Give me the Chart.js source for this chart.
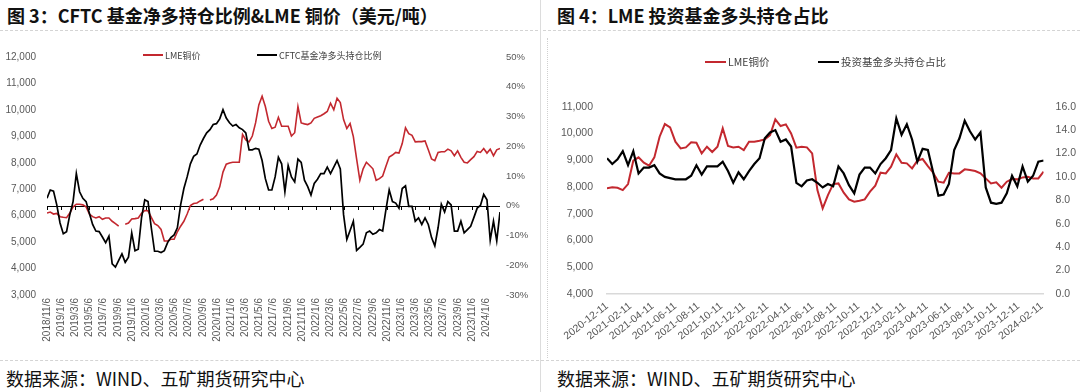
<!DOCTYPE html>
<html><head><meta charset="utf-8">
<script src="https://cdn.jsdelivr.net/npm/chart.js@4.4.1/dist/chart.umd.min.js"></script>
<style>
html,body{margin:0;padding:0;background:#fff;width:1080px;height:392px;overflow:hidden;font-family:"Noto Sans CJK SC",sans-serif;}
.title{position:absolute;top:6px;font-size:18px;line-height:18px;font-weight:bold;color:#111;white-space:nowrap;}
.src{position:absolute;top:369px;font-size:18px;line-height:18px;color:#111;white-space:nowrap;}
.hline{position:absolute;height:0;border-top:1px dashed #d4d4d4;}
.vline{position:absolute;width:0;}
canvas{position:absolute;}
</style></head>
<body>
<div class="title" style="left:7px">图 3：CFTC 基金净多持仓比例&amp;LME 铜价（美元/吨）</div>
<div class="title" style="left:557px">图 4：LME 投资基金多头持仓占比</div>
<div class="hline" style="left:0;width:538px;top:30px"></div>
<div class="hline" style="left:543px;width:537px;top:30px"></div>
<div class="hline" style="left:0;width:1080px;top:360px"></div>
<div class="vline" style="left:540px;top:0;height:392px;border-left:1px solid #dcdcdc"></div>
<div class="vline" style="left:547px;top:38px;height:320px;border-left:1px dotted #d0d0d0"></div>
<div class="src" style="left:6px">数据来源：WIND、五矿期货研究中心</div>
<div class="src" style="left:557px">数据来源：WIND、五矿期货研究中心</div>
<canvas id="c1" width="540" height="310" style="left:0;top:40px"></canvas>
<canvas id="c2" width="535" height="310" style="left:545px;top:40px"></canvas>
<script>
// ---------- Left chart data (bi-weekly from 2018/11/6) ----------
const leftStart = '2018/11/6';
const leftStepDays = 14;
const leftTickLabels = ['2018/11/6','2019/1/6','2019/3/6','2019/5/6','2019/7/6','2019/9/6','2019/11/6',
 '2020/1/6','2020/3/6','2020/5/6','2020/7/6','2020/9/6','2020/11/6',
 '2021/1/6','2021/3/6','2021/5/6','2021/7/6','2021/9/6','2021/11/6',
 '2022/1/6','2022/3/6','2022/5/6','2022/7/6','2022/9/6','2022/11/6',
 '2023/1/6','2023/3/6','2023/5/6','2023/7/6','2023/9/6','2023/11/6','2024/1/6'];
const lmeCopperLeft = [
 6098,6135,6061,6086,5962,5937,5924,6098,6334,6433,
 6433,6408,6334,6061,5962,5912,5962,5862,5912,5912,
 5788,5701,5602,null,5676,5720,5875,5887,5912,6086,
 6197,6185,5937,5701,5627,5478,5044,5044,5106,5106,
 5391,5602,5788,6061,6383,6458,6482,6557,6619,null,
 6594,6640,6780,7090,7648,7946,7995,8020,8020,8020,
 9074,8863,8789,9012,9508,10190,10520,10128,9570,9297,
 9347,9719,9384,9384,9384,9012,9136,10128,9508,9471,
 9446,9508,9682,9731,9781,9855,9942,10252,10004,10438,
 10277,9632,9297,9483,8987,8144,7338,7772,8020,7896,
 7772,7338,7400,7499,7871,8218,8293,8392,8367,8727,
 9322,9099,9037,8789,8801,8801,8826,8491,8144,8082,
 8392,8417,8417,8516,8454,8268,8454,8206,8020,7995,
 8119,8231,8429,8392,8541,8367,8516,8268,8491,8541];
const cftcNetLongPct = [
 2.5,5.3,4.9,0.3,-5.8,-9.4,-8.7,-3.0,1.4,10.8,
 4.7,2.5,1.4,-2.5,-6.3,-8.5,-8.7,-10.5,-12.4,-10.2,
 -19.5,-20.6,-18.4,-16.2,-19.0,-17.3,-9.1,-15.1,-14.6,-4.1,
 2.0,1.4,-7.4,-15.3,-15.3,-15.7,-15.1,-12.4,-10.7,-9.8,
 -7.4,0.3,5.8,9.7,14.1,16.6,17.4,20.4,22.6,24.5,
 25.6,27.3,27.6,29.2,32.3,29.5,27.9,26.8,27.3,26.2,
 25.6,24.5,18.8,18.8,19.3,19.0,15.2,9.1,5.3,5.3,
 9.7,16.3,14.1,4.7,13.5,9.7,8.0,15.7,14.6,8.6,
 6.4,3.6,7.5,8.9,10.8,10.8,13.0,10.8,13.0,15.2,
 12.4,-3.0,-11.3,-8.3,-5.2,-15.0,-14.0,-12.9,-9.1,-8.5,
 -9.6,-9.1,-8.0,-8.5,-1.3,5.3,1.4,0.9,-0.8,5.8,
 6.7,-0.2,-0.2,-5.2,-4.1,-6.3,-4.1,-6.3,-10.7,-13.5,
 -7.4,0.5,-2.1,1.4,0.3,-8.5,-8.5,-5.2,-9.1,-8.0,
 -6.9,-3.9,-0.8,0.1,3.8,2.0,-11.6,-5.2,-11.8,-2.1];

// ---------- Right chart data (bi-weekly from 2020-12-11) ----------
const rightStart = '2020-12-11';
const rightStepDays = 14;
const rightTickLabels = ['2020-12-11','2021-02-11','2021-04-11','2021-06-11','2021-08-11','2021-10-11','2021-12-11',
 '2022-02-11','2022-04-11','2022-06-11','2022-08-11','2022-10-11','2022-12-11',
 '2023-02-11','2023-04-11','2023-06-11','2023-08-11','2023-10-11','2023-12-11','2024-02-11'];
const lmeCopperRight = [
 7947,7985,7972,7885,8109,8981,9106,8907,8795,9106,
 9879,10350,10227,9692,9443,9480,9667,9654,9256,9505,
 9306,9505,10190,9530,9480,9505,9381,9692,9692,9729,
 9779,9941,10527,10277,10340,10003,9468,9505,9480,9256,
 7885,7200,7698,8109,8134,7785,7536,7449,7486,7536,
 7823,8047,8533,8508,8757,9218,8907,8882,8695,8981,
 9044,8782,8533,8197,8159,8533,8508,8508,8658,8633,
 8595,8508,8321,8134,8172,7972,8197,8296,8284,8358,
 8383,8321,8321,8570];
const fundLongSharePct = [
 11.6,11.1,11.5,12.2,11.0,12.2,10.3,10.8,10.8,11.0,
 10.3,10.0,9.9,9.8,9.8,9.8,10.1,11.0,10.2,10.9,
 10.9,10.9,11.3,10.5,9.5,10.4,9.8,10.5,11.1,11.6,
 13.3,13.8,14.0,13.0,13.2,12.6,9.5,9.2,9.7,9.8,
 9.5,9.1,9.4,9.2,10.9,10.3,9.3,8.6,10.2,10.8,
 10.8,10.3,11.1,11.6,12.3,15.0,13.6,14.5,13.2,11.3,
 12.4,12.3,10.4,8.4,8.5,9.4,12.3,13.3,14.8,13.9,
 13.2,13.8,9.1,7.8,7.7,7.8,8.6,10.1,9.2,10.9,
 9.6,10.1,11.3,11.4];

// ---------- helpers ----------
const DAY = 86400000;
function parseYMD(s){ const p = s.split(/[\/-]/).map(Number); return Date.UTC(p[0], p[1]-1, p[2]); }
function daysFrom(start, s){ return Math.round((parseYMD(s) - parseYMD(start)) / DAY); }
function toXY(vals, step){ return vals.map((v,i)=>({x: i*step, y: v})); }
const leftTickDays = leftTickLabels.map(s => daysFrom(leftStart, s));
const rightTickDays = rightTickLabels.map(s => daysFrom(rightStart, s));

const RED = '#C3282F', BLACK = '#000000', TICK = '#595959';
const NUM_FONT = 'Liberation Sans, Arial, sans-serif';
const CJK_FONT = '"Noto Sans CJK SC", sans-serif';
const fmtThousands = v => v.toLocaleString('en-US');

const customLegend = {
  id: 'customLegend',
  afterDraw(chart, args, opts) {
    const ctx = chart.ctx;
    ctx.save();
    opts.items.forEach(it => {
      const ds = chart.data.datasets[it.dataset];
      ctx.strokeStyle = ds.borderColor; ctx.lineWidth = 2;
      ctx.beginPath(); ctx.moveTo(it.x, opts.y); ctx.lineTo(it.x + opts.lineLen, opts.y); ctx.stroke();
      ctx.fillStyle = opts.color; ctx.font = opts.font; ctx.textBaseline = 'middle'; ctx.textAlign = 'left';
      ctx.fillText(ds.label, it.x + opts.lineLen + 2, opts.y + 0.5);
    });
    ctx.restore();
  }
};

const zeroAxis = {
  id: 'zeroAxis',
  beforeDatasetsDraw(chart, args, opts) {
    if (!opts.enabled) return;
    const ctx = chart.ctx, xs = chart.scales.x, ys = chart.scales.y1;
    const y = Math.round(ys.getPixelForValue(0)) + 0.5;
    ctx.save();
    ctx.strokeStyle = '#000'; ctx.lineWidth = 1;
    ctx.beginPath();
    ctx.moveTo(chart.chartArea.left, y); ctx.lineTo(chart.chartArea.right, y);
    xs.ticks.forEach(t => {
      const x = Math.round(xs.getPixelForValue(t.value)) + 0.5;
      ctx.moveTo(x, y); ctx.lineTo(x, y + 3.5);
    });
    ctx.stroke();
    ctx.restore();
  }
};

// ---------- Left chart ----------
new Chart(document.getElementById('c1'), {
  type: 'line',
  data: { datasets: [
    { label: 'LME铜价', data: toXY(lmeCopperLeft, leftStepDays), yAxisID: 'y', borderColor: RED, borderWidth: 1.6, pointRadius: 0, tension: 0, spanGaps: false, order: 1 },
    { label: 'CFTC基金净多头持仓比例', data: toXY(cftcNetLongPct, leftStepDays), yAxisID: 'y1', borderColor: BLACK, borderWidth: 1.7, pointRadius: 0, tension: 0, order: 0 }
  ]},
  options: {
    responsive: false, animation: false, events: [],
    layout: { padding: { top: 13, left: 0, right: 0, bottom: 0 } },
    plugins: {
      legend: { display: false }, tooltip: { enabled: false },
      customLegend: { y: 15, lineLen: 20, font: '9px ' + CJK_FONT, color: '#404040',
        items: [ { dataset: 0, x: 143 }, { dataset: 1, x: 257 } ] },
      zeroAxis: { enabled: true }
    },
    scales: {
      x: { type: 'linear', min: 0, max: 1946,
        afterBuildTicks: s => { s.ticks = leftTickDays.map(v => ({ value: v })); },
        afterFit: s => { s.height = 55; },
        grid: { display: false, drawTicks: false }, border: { display: false },
        ticks: { autoSkip: false, minRotation: 90, maxRotation: 90, padding: 3, color: TICK,
          font: { size: 10, family: NUM_FONT }, callback: (v, i) => leftTickLabels[i] } },
      y: { position: 'left', min: 3000, max: 12000,
        afterFit: s => { s.width = 47; },
        grid: { display: false, drawTicks: false }, border: { display: false },
        ticks: { stepSize: 1000, padding: 11, color: TICK, font: { size: 10, family: NUM_FONT }, callback: v => fmtThousands(v) } },
      y1: { position: 'right', min: -30, max: 50,
        afterFit: s => { s.width = 40; },
        grid: { display: false, drawTicks: false }, border: { display: false },
        ticks: { stepSize: 10, padding: 6, color: TICK, font: { size: 9.5, family: NUM_FONT }, callback: v => v + '%' } }
    }
  },
  plugins: [customLegend, zeroAxis]
});

// ---------- Right chart ----------
new Chart(document.getElementById('c2'), {
  type: 'line',
  data: { datasets: [
    { label: 'LME铜价', data: toXY(lmeCopperRight, rightStepDays), yAxisID: 'y', borderColor: RED, borderWidth: 2, pointRadius: 0, tension: 0, order: 1 },
    { label: '投资基金多头持仓占比', data: toXY(fundLongSharePct, rightStepDays), yAxisID: 'y1', borderColor: BLACK, borderWidth: 2.2, pointRadius: 0, tension: 0, order: 0 }
  ]},
  options: {
    responsive: false, animation: false, events: [],
    layout: { padding: { top: 66.7, left: 0, right: 0, bottom: 0 } },
    plugins: {
      legend: { display: false }, tooltip: { enabled: false },
      customLegend: { y: 22, lineLen: 21, font: '10.5px ' + CJK_FONT, color: '#404040',
        items: [ { dataset: 0, x: 160 }, { dataset: 1, x: 273 } ] },
      zeroAxis: { enabled: false }
    },
    scales: {
      x: { type: 'linear', min: 0, max: 1162,
        afterBuildTicks: s => { s.ticks = rightTickDays.map(v => ({ value: v })); },
        afterFit: s => { s.height = 56; },
        grid: { display: false, drawTicks: false }, border: { display: true, color: '#d9d9d9', width: 1.5 },
        ticks: { autoSkip: false, minRotation: 38, maxRotation: 38, padding: 6, color: TICK,
          font: { size: 10.5, family: NUM_FONT }, callback: (v, i) => rightTickLabels[i] } },
      y: { position: 'left', min: 4000, max: 11000,
        afterFit: s => { s.width = 62; },
        grid: { display: false, drawTicks: false }, border: { display: false },
        ticks: { stepSize: 1000, padding: 14, color: TICK, font: { size: 10.5, family: NUM_FONT }, callback: v => fmtThousands(v) } },
      y1: { position: 'right', min: 0, max: 16,
        afterFit: s => { s.width = 36.4; },
        grid: { display: false, drawTicks: false }, border: { display: false },
        ticks: { stepSize: 2, padding: 12, color: TICK, font: { size: 10.5, family: NUM_FONT }, callback: v => v.toFixed(1) } }
    }
  },
  plugins: [customLegend, zeroAxis]
});
</script>
</body></html>
